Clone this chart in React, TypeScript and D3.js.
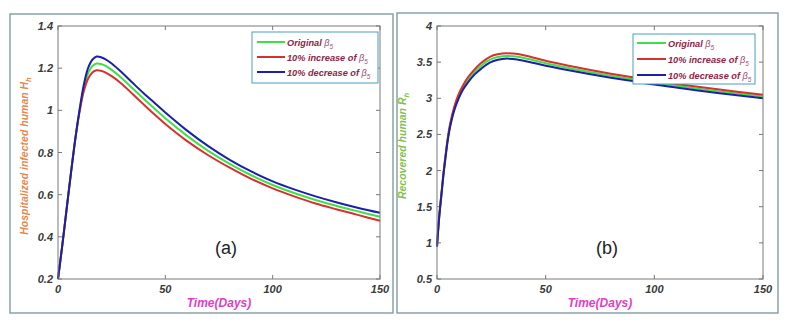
import React from "react";
import * as d3 from "d3";

// panel (a): hospitalized infected human H_h
const timeA = [0, 2, 4, 6, 8, 10, 12, 14, 16, 18, 20, 22, 25, 30, 35, 40, 45, 50, 60, 70, 80, 90, 100, 110, 120, 130, 140, 150];
const hOriginal = [0.2, 0.36, 0.53, 0.7, 0.86, 0.995, 1.105, 1.175, 1.21, 1.222, 1.22, 1.212, 1.192, 1.15, 1.102, 1.054, 1.008, 0.962, 0.88, 0.808, 0.746, 0.692, 0.646, 0.608, 0.575, 0.546, 0.52, 0.495];
const hIncrease = [0.2, 0.36, 0.53, 0.7, 0.86, 0.99, 1.09, 1.15, 1.18, 1.19, 1.188, 1.18, 1.162, 1.123, 1.075, 1.027, 0.98, 0.935, 0.855, 0.787, 0.728, 0.675, 0.63, 0.592, 0.558, 0.53, 0.503, 0.476];
const hDecrease = [0.2, 0.36, 0.53, 0.7, 0.86, 1.0, 1.12, 1.2, 1.24, 1.255, 1.252, 1.243, 1.222, 1.177, 1.128, 1.08, 1.035, 0.99, 0.905, 0.83, 0.765, 0.71, 0.663, 0.625, 0.592, 0.563, 0.537, 0.514];

// panel (b): recovered human R_h
const timeB = [0, 1, 2, 3, 4, 5, 6, 8, 10, 12, 14, 17, 20, 23, 26, 30, 35, 40, 50, 60, 70, 80, 90, 100, 110, 120, 130, 140, 150];
const rOriginal = [0.95, 1.355, 1.66, 1.96, 2.215, 2.445, 2.62, 2.865, 3.03, 3.15, 3.245, 3.355, 3.44, 3.51, 3.555, 3.583, 3.582, 3.558, 3.485, 3.422, 3.365, 3.312, 3.264, 3.216, 3.173, 3.133, 3.095, 3.06, 3.025];
const rIncrease = [0.95, 1.36, 1.67, 1.97, 2.23, 2.46, 2.64, 2.89, 3.06, 3.18, 3.28, 3.39, 3.48, 3.55, 3.595, 3.62, 3.618, 3.595, 3.52, 3.455, 3.395, 3.34, 3.29, 3.242, 3.198, 3.158, 3.12, 3.085, 3.05];
const rDecrease = [0.95, 1.35, 1.65, 1.95, 2.2, 2.43, 2.6, 2.84, 3.0, 3.12, 3.21, 3.32, 3.4, 3.47, 3.515, 3.545, 3.545, 3.52, 3.45, 3.39, 3.335, 3.285, 3.238, 3.19, 3.148, 3.108, 3.07, 3.035, 3.0];

const xTicks = [0, 50, 100, 150];
const yTicksA = [0.2, 0.4, 0.6, 0.8, 1, 1.2, 1.4];
const yTicksB = [0.5, 1, 1.5, 2, 2.5, 3, 3.5, 4];
const legendLabels = ["Original ", "10% increase of ", "10% decrease of "];

const GREEN = "#3ee04a";
const RED = "#d8302c";
const BLUE = "#1c20a6";
const seriesColors = [GREEN, RED, BLUE];

const tickFont = "Arial, 'Liberation Sans', sans-serif";

type PanelProps = {
  frame: [number, number, number, number];
  plot: { left: number; right: number; top: number; bottom: number };
  time: number[];
  series: number[][];
  yDomain: [number, number];
  yTicks: number[];
  yLabel: string;
  yLabelSub: string;
  yLabelColor: string;
  yLabelX: number;
  yLabelY: number;
  tag: string;
  legend: { x: number; y: number; w: number; h: number; lineX1: number; lineX2: number; rows: number[] };
};

const Panel = (p: PanelProps) => {
  const { plot } = p;
  const x = d3.scaleLinear().domain([0, 150]).range([plot.left, plot.right]);
  const y = d3.scaleLinear().domain(p.yDomain).range([plot.bottom, plot.top]);
  const line = (vals: number[]) =>
    d3
      .line<number>()
      .x((_, i) => x(p.time[i]))
      .y((d) => y(d))
      .curve(d3.curveCatmullRom.alpha(0.5))(vals) || "";
  const tk = 4;
  const fmt = (v: number) => String(+v.toFixed(1));

  return (
    <g>
      <rect
        x={p.frame[0]}
        y={p.frame[1]}
        width={p.frame[2]}
        height={p.frame[3]}
        fill="white"
        stroke="#8aa1a9"
        strokeWidth={1.5}
      />
      {/* x ticks, inward, bottom and top */}
      {xTicks.map((t) => (
        <g key={"x" + t}>
          <line x1={x(t)} x2={x(t)} y1={plot.bottom} y2={plot.bottom - tk} stroke="#777" />
          <line x1={x(t)} x2={x(t)} y1={plot.top} y2={plot.top + tk} stroke="#777" />
          <text
            x={x(t)}
            y={plot.bottom + 14}
            textAnchor="middle"
            fontFamily={tickFont}
            fontSize={11}
            fontWeight="bold"
            fontStyle="italic"
            fill="#3a3a3a"
          >
            {t}
          </text>
        </g>
      ))}
      {p.yTicks.map((t) => (
        <g key={"y" + t}>
          <line x1={plot.left} x2={plot.left + tk} y1={y(t)} y2={y(t)} stroke="#777" />
          <line x1={plot.right} x2={plot.right - tk} y1={y(t)} y2={y(t)} stroke="#777" />
          <text
            x={plot.left - 5}
            y={y(t) + 4}
            textAnchor="end"
            fontFamily={tickFont}
            fontSize={11}
            fontWeight="bold"
            fontStyle="italic"
            fill="#3a3a3a"
          >
            {fmt(t)}
          </text>
        </g>
      ))}
      {p.series.map((s, i) => (
        <path key={i} d={line(s)} fill="none" stroke={seriesColors[i]} strokeWidth={2} />
      ))}
      <rect
        x={plot.left}
        y={plot.top}
        width={plot.right - plot.left}
        height={plot.bottom - plot.top}
        fill="none"
        stroke="#7a7a7a"
        strokeWidth={1}
      />
      {/* legend */}
      <rect
        x={p.legend.x}
        y={p.legend.y}
        width={p.legend.w}
        height={p.legend.h}
        fill="white"
        stroke="#4a9fc2"
        strokeWidth={1}
      />
      {legendLabels.map((lab, i) => (
        <g key={lab}>
          <line
            x1={p.legend.lineX1}
            x2={p.legend.lineX2}
            y1={p.legend.rows[i]}
            y2={p.legend.rows[i]}
            stroke={seriesColors[i]}
            strokeWidth={2}
          />
          <text
            x={p.legend.lineX2 + 2}
            y={p.legend.rows[i] + 3.5}
            fontFamily={tickFont}
            fontSize={9.2}
            fontWeight="bold"
            fontStyle="italic"
            fill="#8e2446"
          >
            {lab}
            <tspan fontWeight="normal" fill="#a05070">β</tspan>
            <tspan fontSize={6.5} dy={3} fontWeight="normal" fill="#a05070">5</tspan>
          </text>
        </g>
      ))}
      {/* axis labels */}
      <text
        x={(plot.left + plot.right) / 2}
        y={plot.bottom + 28}
        textAnchor="middle"
        fontFamily={tickFont}
        fontSize={12}
        fontWeight="bold"
        fontStyle="italic"
        fill="#e03ec4"
      >
        Time(Days)
      </text>
      <text
        transform={`translate(${p.yLabelX},${p.yLabelY}) rotate(-90)`}
        textAnchor="middle"
        fontFamily={tickFont}
        fontSize={10.5}
        fontWeight="bold"
        fontStyle="italic"
        fill={p.yLabelColor}
      >
        {p.yLabel}
        <tspan fontSize={7.5} dy={3}>
          {p.yLabelSub}
        </tspan>
      </text>
      <text
        x={(plot.left + plot.right) / 2 + 7}
        y={254}
        textAnchor="middle"
        fontFamily={tickFont}
        fontSize={18}
        fill="#222"
      >
        {p.tag}
      </text>
    </g>
  );
};

export default function App() {
  return (
    <svg width={786} height={320} style={{ display: "block", position: "absolute", left: 0, top: 0 }}>
      <rect x={0} y={0} width={786} height={320} fill="white" />
      <Panel
        frame={[10, 14, 383, 299]}
        plot={{ left: 58, right: 380, top: 26, bottom: 279 }}
        time={timeA}
        series={[hOriginal, hIncrease, hDecrease]}
        yDomain={[0.2, 1.4]}
        yTicks={yTicksA}
        yLabel={"Hospitalized infected human  H"}
        yLabelSub="h"
        yLabelColor="#e8874a"
        yLabelX={28}
        yLabelY={156}
        tag="(a)"
        legend={{ x: 252, y: 32, w: 126, h: 51, lineX1: 257, lineX2: 285, rows: [42, 57, 72] }}
      />
      <Panel
        frame={[397, 13, 381, 300]}
        plot={{ left: 437, right: 763, top: 26, bottom: 279 }}
        time={timeB}
        series={[rOriginal, rIncrease, rDecrease]}
        yDomain={[0.5, 4]}
        yTicks={yTicksB}
        yLabel={"Recovered human  R"}
        yLabelSub="h"
        yLabelColor="#86c04a"
        yLabelX={406}
        yLabelY={146}
        tag="(b)"
        legend={{ x: 633, y: 34, w: 122, h: 50, lineX1: 637, lineX2: 666, rows: [43, 59, 75] }}
      />
    </svg>
  );
}
